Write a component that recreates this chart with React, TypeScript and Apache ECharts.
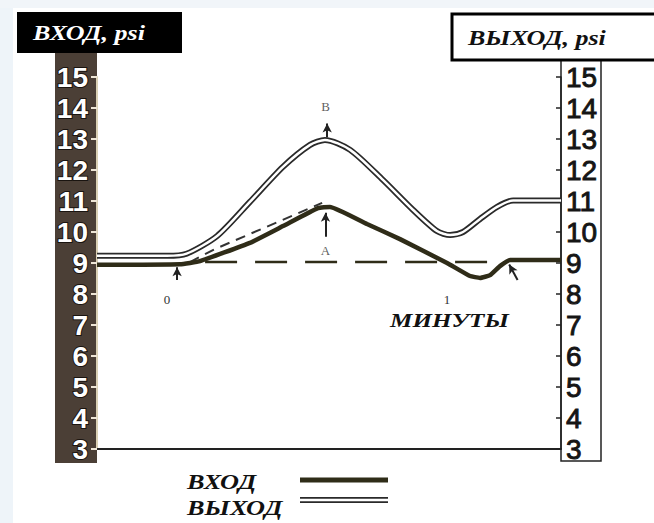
import React, { useEffect, useRef } from "react";
import * as echarts from "echarts";

// time in minutes, pressure in psi
const inputT = [-0.25, 0.046, 0.118, 0.296, 0.414, 0.539, 0.582, 0.714, 0.832, 1.0, 1.082, 1.118, 1.154, 1.189, 1.225, 1.407];
const inputPsi = [8.94, 8.96, 9.06, 9.65, 10.19, 10.77, 10.81, 10.26, 9.77, 9.0, 8.58, 8.52, 8.61, 8.9, 9.1, 9.1];

const outputT = [-0.25, 0.0, 0.07, 0.179, 0.296, 0.414, 0.511, 0.564, 0.654, 0.771, 0.879, 0.964, 1.011, 1.057, 1.118, 1.179, 1.236, 1.407];
const outputPsi = [9.23, 9.23, 9.3, 9.87, 10.97, 12.1, 12.81, 12.97, 12.65, 11.68, 10.71, 10.03, 9.9, 10.0, 10.42, 10.81, 11.02, 11.02];

const dashT = [0.082, 0.171, 0.554];
const dashPsi = [9.03, 9.45, 10.94];

const baseT = [0.136, 1.207];
const basePsi = [9.03, 9.03];

const timeTicks = [0, 1];
const psiMin = 3;
const psiMax = 15;

const pointLabels = [
  { name: "B", t: 0.566, psi: 14.05 },
  { name: "A", t: 0.566, psi: 9.4 },
];

const arrows = [
  { from: [0.566, 9.85], to: [0.566, 10.62] },
  { from: [0.572, 13.06], to: [0.572, 13.5] },
  { from: [0.036, 8.45], to: [0.036, 8.86] },
  { from: [1.252, 8.45], to: [1.222, 8.95] },
];

const zip = (a: number[], b: number[]) => a.map((v, i) => [v, b[i]]);

export default function App() {
  const ref = useRef<HTMLDivElement>(null);
  useEffect(() => {
    if (!ref.current) return;
    const chart = echarts.init(ref.current, null, { renderer: "svg" });
    const dark = "#2f2c18";
    const serifBI = "italic bold 20px 'Liberation Serif', serif";
    const option: any = {
      animation: false,
      backgroundColor: "#ffffff",
      grid: { left: 97, right: 93, top: 77, bottom: 74, containLabel: false },
      xAxis: [
        {
          type: "value",
          min: -0.25,
          max: 1.407,
          axisLine: { show: true, onZero: false, lineStyle: { color: "#222", width: 2 } },
          axisTick: { show: false },
          axisLabel: { show: false },
          splitLine: { show: false },
        },
        {
          type: "value",
          min: -0.25,
          max: 1.407,
          position: "bottom",
          offset: -157,
          axisLine: { show: false, onZero: false },
          axisTick: { show: false },
          splitLine: { show: false },
          axisLabel: {
            show: true,
            customValues: timeTicks,
            margin: 1,
            color: "#333",
            fontSize: 13,
            fontFamily: "'Liberation Serif', serif",
          },
        },
      ],
      yAxis: [
        {
          type: "value",
          position: "left",
          min: psiMin,
          max: psiMax,
          interval: 1,
          splitLine: { show: false },
          axisLine: { show: true, onZero: false, lineStyle: { color: "#d9cfb4", width: 2 } },
          axisTick: { show: true, length: 6, lineStyle: { color: "#eee6d6", width: 2 } },
          axisLabel: {
            margin: 9,
            color: "#ffffff",
            fontSize: 28,
            fontWeight: "bold",
            fontFamily: "'Liberation Sans', Arial, sans-serif",
            textBorderColor: "#1a1410",
            textBorderWidth: 2,
          },
        },
        {
          type: "value",
          position: "right",
          min: psiMin,
          max: psiMax,
          interval: 1,
          splitLine: { show: false },
          axisLine: { show: true, onZero: false, lineStyle: { color: "#222", width: 1.5 } },
          axisTick: { show: true, inside: true, length: 5, lineStyle: { color: "#222", width: 1.5 } },
          axisLabel: {
            margin: 5,
            color: "#151515",
            fontSize: 28,
            fontFamily: "'Liberation Sans', Arial, sans-serif",
            textBorderColor: "#151515",
            textBorderWidth: 0.9,
          },
        },
      ],
      series: [
        {
          name: "base",
          type: "line",
          data: zip(baseT, basePsi),
          symbol: "none",
          lineStyle: { color: dark, width: 2.5, type: [32, 18] },
          z: 2,
        },
        {
          name: "dash",
          type: "line",
          data: zip(dashT, dashPsi),
          symbol: "none",
          lineStyle: { color: "#333", width: 2, type: [10, 7] },
          z: 2,
        },
        {
          name: "ВЫХОД",
          type: "line",
          data: zip(outputT, outputPsi),
          symbol: "none",
          smooth: 0.25,
          lineStyle: { color: "#2a2a2a", width: 6 },
          z: 3,
        },
        {
          name: "ВЫХОД-inner",
          type: "line",
          data: zip(outputT, outputPsi),
          symbol: "none",
          smooth: 0.25,
          lineStyle: { color: "#ffffff", width: 2.5 },
          z: 4,
        },
        {
          name: "ВХОД",
          type: "line",
          data: zip(inputT, inputPsi),
          symbol: "none",
          smooth: 0.12,
          lineStyle: { color: dark, width: 4.5 },
          z: 5,
        },
        {
          name: "labels",
          type: "scatter",
          data: pointLabels.map((p) => ({ name: p.name, value: [p.t, p.psi] })),
          symbolSize: 0,
          label: {
            show: true,
            position: "inside",
            formatter: (p: any) => p.name,
            color: "#333",
            fontSize: 13,
            fontFamily: "'Liberation Serif', serif",
          },
          z: 6,
          markLine: {
            silent: true,
            symbol: ["none", "arrow"],
            symbolSize: [7, 9],
            label: { show: false },
            lineStyle: { color: "#222", width: 2, type: "solid" },
            data: arrows.map((a) => [{ coord: a.from }, { coord: a.to }]),
          },
        },
      ],
      graphic: [
        { type: "rect", z: -5, shape: { x: 0, y: 0, width: 13, height: 523 }, style: { fill: "#eef4f9" } },
        { type: "rect", z: -5, shape: { x: 0, y: 0, width: 654, height: 8 }, style: { fill: "#f1f5f9" } },
        { type: "rect", z: -4, shape: { x: 55, y: 53, width: 42, height: 410 }, style: { fill: "#4b3f36" } },
        { type: "rect", z: -4, shape: { x: 561, y: 60, width: 40, height: 401 }, style: { fill: "none", stroke: "#222", lineWidth: 1.5 } },
        { type: "rect", z: 10, shape: { x: 17, y: 12, width: 165, height: 41 }, style: { fill: "#000" } },
        {
          type: "text", z: 11, x: 33, y: 33, scaleX: 1.3,
          style: { text: "ВХОД, psi", font: serifBI, fill: "#fff", textAlign: "left", textVerticalAlign: "middle" },
        },
        { type: "rect", z: 10, shape: { x: 452, y: 14, width: 215, height: 46 }, style: { fill: "#fff", stroke: "#000", lineWidth: 3 } },
        {
          type: "text", z: 11, x: 468, y: 38, scaleX: 1.3,
          style: { text: "ВЫХОД, psi", font: serifBI, fill: "#111", textAlign: "left", textVerticalAlign: "middle" },
        },
        {
          type: "text", z: 11, x: 390, y: 321, scaleX: 1.4,
          style: { text: "МИНУТЫ", font: "italic bold 18px 'Liberation Serif', serif", fill: "#111", textAlign: "left", textVerticalAlign: "middle" },
        },
        {
          type: "text", z: 11, x: 187, y: 482, scaleX: 1.25,
          style: { text: "ВХОД", font: "italic bold 21px 'Liberation Serif', serif", fill: "#111", textAlign: "left", textVerticalAlign: "middle" },
        },
        {
          type: "text", z: 11, x: 187, y: 508, scaleX: 1.25,
          style: { text: "ВЫХОД", font: "italic bold 21px 'Liberation Serif', serif", fill: "#111", textAlign: "left", textVerticalAlign: "middle" },
        },
        { type: "line", z: 11, shape: { x1: 300, y1: 480, x2: 388, y2: 480 }, style: { stroke: dark, lineWidth: 5 } },
        { type: "line", z: 11, shape: { x1: 300, y1: 500, x2: 388, y2: 500 }, style: { stroke: "#2a2a2a", lineWidth: 6 } },
        { type: "line", z: 12, shape: { x1: 300, y1: 500, x2: 388, y2: 500 }, style: { stroke: "#fff", lineWidth: 2.5 } },
      ],
    };
    chart.setOption(option);
    return () => chart.dispose();
  }, []);
  return (
    <div
      ref={ref}
      style={{ position: "fixed", left: 0, top: 0, width: 654, height: 523 }}
    />
  );
}
